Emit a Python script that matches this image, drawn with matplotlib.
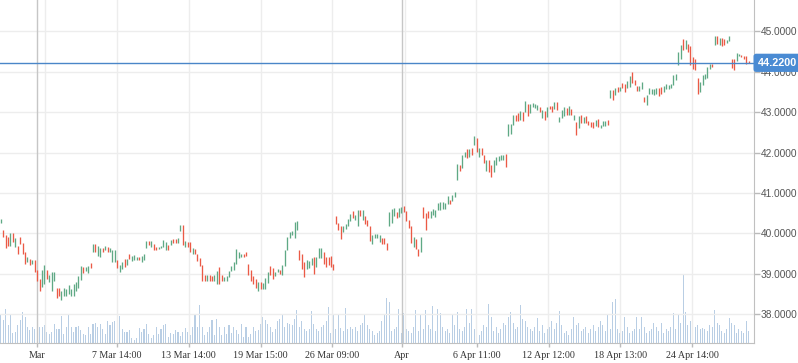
import numpy as np
import matplotlib
matplotlib.use('Agg')
import matplotlib.pyplot as plt
import matplotlib.transforms as mtransforms

plt.rcParams['font.family'] = ['Liberation Sans', 'DejaVu Sans']

# hourly bars (high / low / up-down)
highs = [
    40.36, 40.08, 39.96, 39.91, 40.01, 40.01, 39.88, 39.69, 39.91, 39.76,
    39.54, 39.42, 39.36, 39.33, 39.33, 39.08, 38.86, 39.08, 39.21, 39.10,
    38.96, 39.03, 39.04, 38.64, 38.64, 38.56, 38.64, 38.62, 38.71, 38.62,
    38.74, 38.79, 38.94, 39.18, 39.16, 39.16, 39.18, 39.26, 39.73, 39.74,
    39.68, 39.64, 39.64, 39.68, 39.66, 39.64, 39.59, 39.58, 39.33, 39.21,
    39.29, 39.37, 39.37, 39.50, 39.44, 39.46, 39.42, 39.42,
    39.44, 39.50, 39.81, 39.81, 39.81, 39.73, 39.67, 39.67, 39.69, 39.83,
    39.78, 39.71, 39.83, 39.86, 39.86, 39.89, 40.21, 40.21, 39.81, 39.78,
    39.78, 39.63, 39.61, 39.49, 39.39, 39.21, 38.98, 38.98, 38.96, 38.94,
    38.98, 39.06, 39.17, 38.96, 38.92, 38.94, 39.06, 39.19, 39.29, 39.61,
    39.53, 39.48, 39.48, 39.53, 39.23, 39.08, 38.94, 38.86, 38.79, 38.79,
    38.78, 38.89,
    39.04, 39.18, 39.13, 39.04, 39.11, 39.08, 39.21, 39.58, 39.92, 40.04,
    40.06, 40.29, 40.31, 39.58, 39.48, 39.29, 39.33, 39.31, 39.38, 39.42,
    39.42, 39.63, 39.64, 39.53, 39.42, 39.42, 39.43, 39.23, 40.42, 40.25,
    40.19, 40.19, 40.23, 40.36, 40.48, 40.54, 40.46, 40.58, 40.58, 40.58,
    40.44, 40.33, 40.19, 39.96, 39.98, 39.98, 39.96, 39.88, 39.88, 39.75,
    40.53, 40.61, 40.63,
    40.52, 40.62, 40.64, 40.68, 40.54, 40.33, 40.17, 39.92, 39.86, 39.61,
    39.92, 40.66, 40.50, 40.54, 40.54, 40.60, 40.58, 40.74, 40.77, 40.77,
    40.76, 40.93, 40.83, 40.95, 41.02, 41.71, 41.69, 41.94, 42.01, 42.09,
    42.09, 42.11, 42.40, 42.37, 42.12, 42.12, 41.94, 41.82, 41.82, 41.69,
    41.82, 41.88, 41.92, 41.93, 41.93, 41.96, 42.70, 42.70, 42.92, 42.92,
    42.98, 43.02, 43.00,
    43.27, 43.21, 43.21, 43.23, 43.19, 43.17, 43.13, 43.05, 43.02, 43.13,
    43.16, 43.16, 43.26, 43.24, 42.88, 43.05, 43.13, 43.09, 43.16, 43.07,
    42.94, 42.76, 42.91, 42.93, 42.88, 42.91, 42.78, 42.76, 42.76, 42.80,
    42.84, 42.69, 42.78, 42.78, 42.80, 43.55, 43.55, 43.60, 43.63, 43.63,
    43.71, 43.69, 43.77, 43.90, 44.00, 43.79, 43.65, 43.65, 43.74, 43.38,
    43.42, 43.60,
    43.58, 43.58, 43.60, 43.60, 43.62, 43.64, 43.70, 43.66, 43.70, 43.91,
    43.95, 44.49, 44.65, 44.80, 44.78, 44.69, 44.64, 44.36, 44.32, 43.84,
    43.74, 43.91, 43.95, 44.12, 44.20, 44.20, 44.88, 44.88, 44.83, 44.83,
    44.80, 44.78, 44.88, 44.32, 44.32, 44.47, 44.45, 44.42, 44.39, 44.39,
    44.27,
]
lows = [
    40.26, 39.92, 39.63, 39.69, 39.69, 39.79, 39.65, 39.49, 39.74, 39.48,
    39.24, 39.28, 39.21, 39.23, 39.04, 38.81, 38.56, 38.67, 38.75, 38.86,
    38.79, 38.58, 38.83, 38.39, 38.44, 38.35, 38.46, 38.44, 38.49, 38.46,
    38.46, 38.58, 38.65, 38.85, 39.02, 39.06, 39.01, 39.13, 39.53, 39.54,
    39.43, 39.41, 39.53, 39.58, 39.54, 39.54, 39.30, 39.29, 39.14, 39.04,
    39.11, 39.16, 39.21, 39.36, 39.31, 39.34, 39.33, 39.33,
    39.29, 39.35, 39.64, 39.71, 39.67, 39.58, 39.58, 39.60, 39.63, 39.67,
    39.58, 39.58, 39.71, 39.75, 39.75, 39.75, 40.06, 39.71, 39.67, 39.66,
    39.54, 39.50, 39.48, 39.31, 39.19, 38.83, 38.82, 38.81, 38.81, 38.83,
    38.83, 38.75, 38.75, 38.83, 38.81, 38.83, 38.92, 39.06, 39.08, 39.25,
    39.39, 39.42, 39.42, 39.43, 38.96, 38.83, 38.75, 38.64, 38.56, 38.63,
    38.61, 38.63,
    38.78, 38.98, 38.88, 38.94, 39.03, 39.00, 38.98, 39.19, 39.58, 39.88,
    39.96, 39.89, 40.09, 39.33, 39.11, 38.92, 39.11, 39.14, 39.21, 39.00,
    39.17, 39.38, 39.39, 39.25, 39.17, 39.21, 39.17, 39.08, 40.23, 40.08,
    39.86, 40.03, 40.11, 40.17, 40.31, 40.38, 40.33, 40.17, 40.44, 40.33,
    40.23, 40.17, 39.81, 39.73, 39.89, 39.88, 39.79, 39.73, 39.73, 39.58,
    40.17, 40.25, 40.42,
    40.37, 40.41, 40.50, 40.52, 40.31, 40.12, 39.77, 39.67, 39.61, 39.45,
    39.53, 40.39, 40.07, 40.37, 40.37, 40.45, 40.41, 40.58, 40.58, 40.60,
    40.60, 40.72, 40.72, 40.80, 40.91, 41.32, 41.55, 41.61, 41.88, 41.86,
    41.88, 41.94, 42.19, 42.01, 41.88, 41.94, 41.74, 41.55, 41.51, 41.40,
    41.51, 41.69, 41.79, 41.82, 41.82, 41.63, 42.40, 42.45, 42.67, 42.79,
    42.79, 42.81, 42.79,
    43.01, 42.91, 42.97, 43.13, 43.09, 43.05, 43.01, 42.86, 42.80, 42.88,
    43.07, 43.01, 43.07, 43.05, 42.76, 42.86, 42.91, 42.93, 42.94, 42.93,
    42.80, 42.43, 42.61, 42.72, 42.72, 42.72, 42.68, 42.64, 42.60, 42.66,
    42.64, 42.61, 42.66, 42.66, 42.68, 43.34, 43.30, 43.42, 43.50, 43.52,
    43.59, 43.49, 43.60, 43.63, 43.71, 43.67, 43.52, 43.52, 43.57, 43.24,
    43.17, 43.46,
    43.45, 43.43, 43.45, 43.41, 43.45, 43.50, 43.56, 43.58, 43.60, 43.66,
    43.79, 44.17, 44.32, 44.53, 44.57, 44.49, 44.17, 44.07, 44.03, 43.45,
    43.50, 43.68, 43.83, 43.84, 44.07, 44.12, 44.67, 44.69, 44.67, 44.64,
    44.65, 44.72, 44.75, 44.09, 44.03, 44.26, 44.39, 44.36, 44.31, 44.20,
    44.22,
]
direction = (
    "udddududdd" "dududdduud" "uuudduuuuu" "uuuuduudud" "uududuuudu" "ududuuud"
    "uuududduuu" "ududduudud" "dudddddudd" "uudduuuuuu" "uuddddddud" "uu"
    "udduuduuuu" "uuuddduuud" "uuuddddddd" "duuuuduudu" "ddduuuuddd" "uuu"
    "duuddddudd" "uddduuuuuu" "uuduuuduud" "udududdudd" "uuuuuduuud" "dud"
    "uduuuududu" "dduduuudud" "udududdddu" "duuudududu" "dduuddduud" "uu"
    "uuudduuuuu" "uuududdddd" "uuuuududud" "duudduuddd" "d"
)
volume = [
    29, 23, 34, 18, 28, 10, 11, 18, 23, 31,
    26, 16, 13, 16, 14, 41, 16, 16, 18, 11,
    9, 11, 19, 14, 14, 27, 9, 16, 28, 16,
    11, 16, 17, 13, 9, 8, 16, 9, 19, 20,
    16, 19, 14, 9, 22, 18, 21, 22, 10, 27,
    14, 11, 11, 13, 5, 3, 5, 15, 11, 14,
    19, 9, 5, 8, 16, 9, 14, 18, 19, 6,
    10, 9, 13, 11, 7, 11, 15, 11, 8, 16,
    29, 16, 38, 16, 8, 11, 16, 23, 8, 24,
    16, 8, 16, 9, 18, 10, 16, 13, 9, 19,
    6, 16, 6, 9, 16, 12, 13, 19, 26, 23,
    19, 16, 11, 14, 22, 24, 28, 16, 20, 19,
    18, 24, 33, 16, 22, 14, 12, 14, 32, 19,
    14, 12, 16, 18, 22, 36, 10, 29, 14, 29,
    15, 12, 35, 14, 16, 14, 16, 12, 18, 20,
    29, 18, 14, 12, 8, 10, 12, 22, 29, 45,
    41, 12, 14, 16, 34, 10, 30, 14, 12, 10,
    16, 33, 12, 28, 14, 33, 18, 14, 37, 12,
    34, 30, 16, 12, 14, 10, 28, 18, 31, 14,
    12, 16, 34, 20, 34, 14, 10, 8, 12, 18,
    16, 39, 26, 12, 16, 10, 14, 20, 18, 26,
    31, 20, 14, 16, 38, 24, 22, 16, 14, 12,
    16, 25, 12, 18, 10, 14, 16, 22, 14, 20,
    32, 18, 10, 12, 8, 14, 26, 18, 20, 12,
    14, 16, 10, 14, 18, 12, 16, 22, 18, 12,
    28, 14, 41, 44, 14, 10, 12, 26, 16, 10,
    12, 14, 26, 14, 26, 16, 10, 12, 14, 20,
    16, 12, 20, 10, 14, 12, 16, 30, 14, 28,
    20, 69, 31, 18, 22, 38, 16, 18, 14, 15,
    14, 12, 18, 16, 33, 20, 18, 12, 10, 14,
    25, 20, 18, 10, 14, 12, 10, 22, 12,
]

last_price = 44.22
price_ticks = [38, 39, 40, 41, 42, 43, 44, 45]
date_labels = ['Mar', '7 Mar 14:00', '13 Mar 14:00', '19 Mar 15:00', '26 Mar 09:00',
               'Apr', '6 Apr 11:00', '12 Apr 12:00', '18 Apr 13:00', '24 Apr 14:00']
date_pos = [14.8, 47.7, 77.4, 107.0, 136.6, 165.2, 196.0, 225.6, 255.2, 284.8]
grid_pos = [18.1, 47.7, 77.4, 107.0, 136.6, 166.3, 195.9, 225.5, 255.2, 284.8]
month_pos = [14.8, 165.2]

n = len(highs)
idx = np.arange(n)
colors = ['#5fa985' if d == 'u' else '#eb5a46' for d in direction[:n]]

fig = plt.figure(figsize=(7.98, 3.63), dpi=100)
ax = fig.add_axes([0, 20.3 / 363, 754 / 798, 342.7 / 363])
vax = ax.twinx()
ax.set_zorder(vax.get_zorder() + 1)
ax.patch.set_visible(False)

# volume
vax.bar(idx, volume[:n], width=0.42, color='#b9cee4', linewidth=0)
vax.set_ylim(0, max(volume) * 4.97)
vax.set_yticks([])
for s in vax.spines.values():
    s.set_visible(False)

# grid
for p in price_ticks:
    ax.axhline(p, color='#ededed', lw=1, zorder=0)
for g in grid_pos:
    ax.axvline(g, color='#ededed', lw=1, zorder=0)
for m in month_pos:
    ax.axvline(m, color='#c6c6c6', lw=1, zorder=0.5)

# price bars
ax.vlines(idx, lows, highs, colors=colors, lw=0.95, zorder=3)

# last price line + label
ax.axhline(last_price, color='#4a86c8', lw=1, zorder=4)
trans = mtransforms.blended_transform_factory(ax.transAxes, ax.transData)
ax.annotate(f'{last_price:.4f}', xy=(1, last_price), xycoords=trans,
            xytext=(2.6, 0), textcoords='offset points', ha='left', va='center',
            color='white', fontsize=7.8, fontweight='bold',
            bbox=dict(boxstyle='round,pad=0.38,rounding_size=0.25', fc='#4a8bd3', ec='none'),
            annotation_clip=False, zorder=10)

ax.set_xlim(-0.3, 310.2)
ax.set_ylim(37.292, 45.775)

ax.yaxis.tick_right()
ax.set_yticks(price_ticks)
ax.set_yticklabels([f'{p:.4f}' for p in price_ticks])
ax.tick_params(axis='y', length=4, width=1, color='#bbbbbb', pad=1,
               labelsize=7.3, labelcolor='#555555')

ax.set_xticks(date_pos)
ax.set_xticklabels(date_labels)
ax.tick_params(axis='x', length=3, width=1, color='#bbbbbb', pad=3,
               labelsize=7.2, labelcolor='#333333')
for lbl in ax.get_xticklabels():
    lbl.set_family('Liberation Serif')

for side in ['left', 'top']:
    ax.spines[side].set_visible(False)
for side in ['right', 'bottom']:
    ax.spines[side].set_color('#c0c0c0')

fig.savefig('out.png', dpi=100)
